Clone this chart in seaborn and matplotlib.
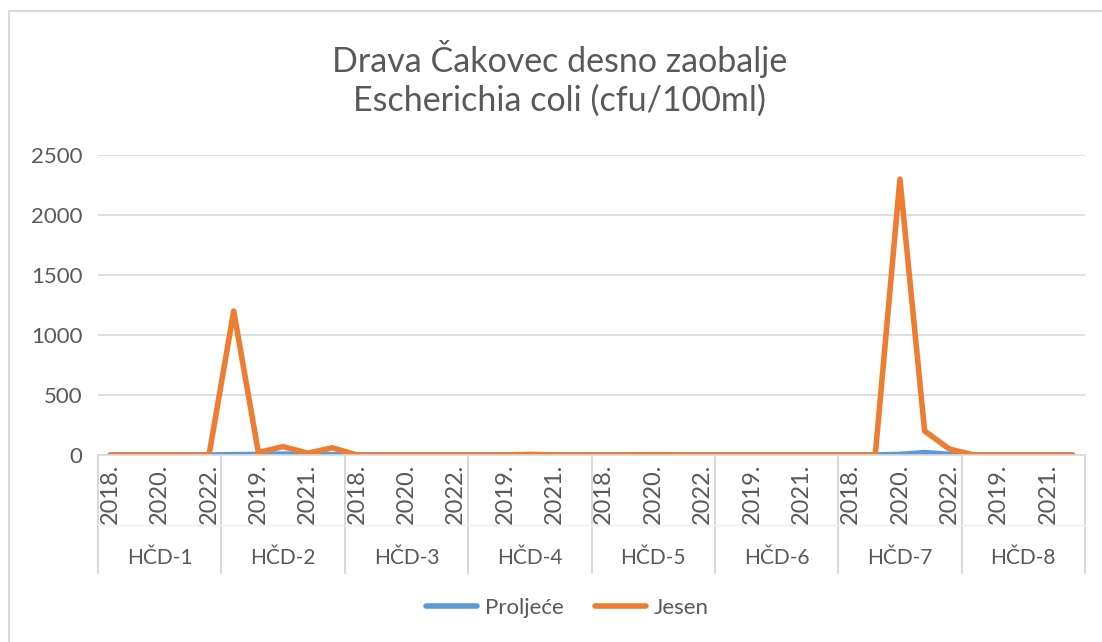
import matplotlib
matplotlib.use("Agg")
import matplotlib.pyplot as plt
import seaborn as sns
import numpy as np
import pandas as pd
from matplotlib.lines import Line2D
from matplotlib.patches import Rectangle


TITLE = "Drava Čakovec desno zaobalje\nEscherichia coli (cfu/100ml)"
SITES = ["HČD-1", "HČD-2", "HČD-3", "HČD-4", "HČD-5", "HČD-6", "HČD-7", "HČD-8"]
YEARS = ["2018.", "2019.", "2020.", "2021.", "2022."]

# values per site, 5 years each (2018-2022)
PROLJECE = [
    0, 0, 0, 0, 0,
    3, 5, 8, 5, 3,
    0, 0, 0, 0, 0,
    0, 0, 0, 0, 0,
    0, 0, 0, 0, 0,
    0, 0, 0, 0, 0,
    0, 0, 5, 20, 5,
    0, 0, 0, 0, 0,
]
JESEN = [
    0, 0, 0, 0, 0,
    1200, 20, 70, 15, 60,
    0, 0, 0, 0, 0,
    0, 0, 5, 0, 0,
    0, 0, 2, 0, 0,
    0, 0, 0, 0, 0,
    0, 0, 2300, 200, 50,
    0, 0, 0, 0, 0,
]

BLUE = "#5B9BD5"
ORANGE = "#ED7D31"
TEXT = "#595959"
GRID = "#D9D9D9"


def build_df():
    n = len(SITES) * len(YEARS)
    pos = np.arange(n)
    df = pd.concat(
        [
            pd.DataFrame({"pos": pos, "value": PROLJECE, "series": "Proljeće"}),
            pd.DataFrame({"pos": pos, "value": JESEN, "series": "Jesen"}),
        ],
        ignore_index=True,
    )
    return df


def main():
    sns.set_style("white")
    plt.rcParams["font.family"] = ["Lato", "DejaVu Sans"]

    df = build_df()
    n = len(SITES) * len(YEARS)

    fig = plt.figure(figsize=(11.02, 6.42), dpi=100)
    W, H = 1102, 642
    left, right, top, bottom = 98, 1085, 155, 455
    ax = fig.add_axes([left / W, 1 - bottom / H, (right - left) / W, (bottom - top) / H])

    fig.patches.append(
        Rectangle((9 / W, -0.1), 1.2, 1 - 11 / H + 0.1, transform=fig.transFigure,
                  fill=False, edgecolor=GRID, linewidth=1.5, zorder=0)
    )

    sns.lineplot(
        data=df, x="pos", y="value", hue="series",
        palette={"Proljeće": BLUE, "Jesen": ORANGE},
        linewidth=4, legend=False, ax=ax,
    )
    for line in ax.get_lines():
        line.set_solid_joinstyle("round")
        line.set_solid_capstyle("round")

    ax.set_xlim(-0.5, n - 0.5)
    ax.set_ylim(0, 2500)
    ax.set_yticks(np.arange(0, 2501, 500))
    ax.yaxis.grid(True, color=GRID, linewidth=1.2)
    ax.set_axisbelow(True)
    for s in ["top", "right", "left"]:
        ax.spines[s].set_visible(False)
    ax.spines["bottom"].set_color(GRID)
    ax.spines["bottom"].set_linewidth(1.2)

    year_labels = [YEARS[i % len(YEARS)] for i in range(n)]
    ticks = list(range(0, n, 2))
    ax.set_xticks(ticks)
    ax.set_xticklabels([year_labels[i] for i in ticks], rotation=90, va="top")
    ax.tick_params(axis="x", length=0, pad=6, labelsize=17, labelcolor=TEXT)
    ax.tick_params(axis="y", length=0, pad=11, labelsize=16, labelcolor=TEXT)
    ax.set_xlabel("")
    ax.set_ylabel("")

    trans = ax.get_xaxis_transform()
    k = len(YEARS)
    for g in range(len(SITES) + 1):
        xb = g * k - 0.5
        ax.plot([xb, xb], [0, -0.393], transform=trans, color=GRID,
                linewidth=1.5, clip_on=False)
    ax.plot([-0.5, n - 0.5], [-0.233, -0.233], transform=trans, color="#EFEFEF",
            linewidth=1, clip_on=False)
    for g, site in enumerate(SITES):
        ax.text(g * k + (k - 1) / 2, -0.343, site, transform=trans, ha="center",
                va="center", fontsize=15, color=TEXT)

    fig.text(0.508, 1 - 78 / H, TITLE, ha="center", va="center", fontsize=24.5,
             color=TEXT, linespacing=1.25)

    handles = [
        Line2D([], [], color=BLUE, linewidth=4, solid_capstyle="round"),
        Line2D([], [], color=ORANGE, linewidth=4, solid_capstyle="round"),
    ]
    leg = fig.legend(handles, ["Proljeće", "Jesen"], loc="center",
                     bbox_to_anchor=(0.515, 1 - 608 / H), ncol=2, frameon=False,
                     fontsize=16, handlelength=2.3, handletextpad=0.35,
                     columnspacing=1.4)
    for t in leg.get_texts():
        t.set_color(TEXT)

    fig.savefig("out.png", dpi=100)
    plt.close(fig)


if __name__ == "__main__":
    main()
